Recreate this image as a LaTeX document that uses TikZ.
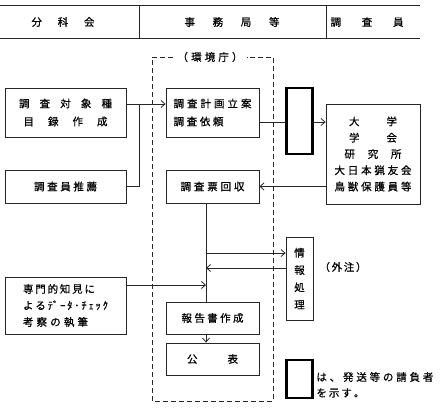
\documentclass[tikz,border=0pt]{standalone}
\usepackage{fontspec}
\setmainfont{Noto Sans CJK JP}[FakeBold=0.6]
\usetikzlibrary{arrows.meta}
\newcommand\spread[2]{\makebox[#1pt][s]{\spaceskip=0pt plus 1fil #2}}
\begin{document}
\begin{tikzpicture}[x=1pt,y=-1pt,>={Straight Barb[length=4pt,width=7pt]},line width=0.8pt,draw=black!85,
  box/.style={rectangle, draw=black!85, line width=0.8pt, inner sep=0pt, align=center, font=\fontsize{10.5}{18}\selectfont},
  agentbox/.style={rectangle, draw=black, line width=2.4pt, inner sep=0pt, minimum width=26pt},
  lbl/.style={inner sep=0pt, font=\fontsize{10.5}{12}\selectfont},]
  \useasboundingbox (0,0) rectangle (441,409);
  % header
  \draw (0,5) -- (420,5);
  \draw (0,38) -- (420,38);
  \draw (139,5) -- (139,38);
  \draw (326,5) -- (326,38);
  \node[lbl] (hdA) at (63,22) {\spread{63}{分 科 会}};
  \node[lbl] (hdB) at (232,22) {\spread{95}{事 務 局 等}};
  \node[lbl] (hdC) at (367,22) {\spread{73}{調 査 員}};
  % boxes
  \node[box, minimum width=121pt, minimum height=49pt] (cat) at (65.5,112.5) {\spread{93}{調 査 対 象 種}\\\spread{84}{目 録 作 成}};
  \node[box, minimum width=121pt, minimum height=33pt] (rec) at (65.5,186.5) {\spread{63}{調 査 員 推 薦}};
  \node[box, minimum width=93pt, minimum height=49pt, align=left] (plan) at (212.5,112.5) {\spread{78}{調 査 計 画 立 案}\\\spread{50}{調 査 依 頼}};
  \node[agentbox, minimum height=66pt] (agent) at (299.5,121) {};
  \node[box, minimum width=94pt, minimum height=100pt, font=\fontsize{10.5}{16.3}\selectfont] (univ) at (373,154) {\spread{48}{大 学}\\\spread{48}{学 会}\\\spread{57}{研 究 所}\\\spread{77}{大 日 本 猟 友 会}\\\spread{77}{鳥 獣 保 護 員 等}};
  \node[box, minimum width=93pt, minimum height=33pt] (coll) at (212.5,186.5) {\spread{64}{調 査 票 回 収}};
  \node[box, minimum width=27pt, minimum height=83pt, font=\fontsize{10.5}{17.3}\selectfont] (info) at (299.5,278.5) {情\\報\\処\\理};
  \node[lbl] (outs) at (343,267) {\spread{47}{（ 外 注 ）}};
  \node[box, minimum width=121pt, minimum height=57pt, align=left, font=\fontsize{10.5}{16.5}\selectfont] (know) at (65.5,305.5) {\spread{72}{専 門 的 知 見 に}\\\spread{85}{よ る ﾃﾞ ｰ ﾀ ･ ﾁ ｪ ｯ ｸ}\\\spread{65}{考 察 の 執 筆}};
  \node[box, minimum width=93pt, minimum height=32pt] (rep) at (212.5,318) {\spread{62}{報 告 書 作 成}};
  \node[box, minimum width=93pt, minimum height=32pt] (pub) at (212.5,359) {\spread{51}{公 表}};
  % agency frame
  \node[lbl] (env) at (210,57) {\spread{65}{（ 環 境 庁 ）}};
  \draw[dash pattern=on 5pt off 3pt, line width=0.7pt] ([xshift=-4pt]env.west) -| (152,401) -| (273,57) -- ([xshift=4pt]env.east);
  % legend
  \node[agentbox, minimum height=38pt] (key) at (299.5,379) {};
  \node[lbl, anchor=west] (keyA) at (316,377) {\spread{117}{は 、 発 送 等 の 請 負 者}};
  \node[lbl, anchor=west] (keyB) at (316,393) {\spread{48}{を 示 す 。}};
  % connectors
  \coordinate (jn) at (139,104);
  \coordinate (t1) at (206,253);
  \coordinate (t2) at (206,268);
  \coordinate (t3) at (206,285);
  \draw[->] ([yshift=8.5pt]cat.east) -- ([yshift=8.5pt]plan.west);
  \draw (rec.east) -| (jn);
  \draw ([yshift=-9.5pt]plan.east) -- ([yshift=-9.5pt]plan.east -| agent.west);
  \draw[->] ([yshift=-1pt]agent.east) -- ([yshift=-1pt]agent.east -| univ.west);
  \draw[->] (univ.west |- coll) -- (coll.east);
  \draw ([xshift=-6.5pt]coll.south) -- ([xshift=-6.5pt]rep.north);
  \draw[->] (t1) -- (t1 -| info.west);
  \draw[->] (t2 -| info.west) -- (t2);
  \draw[->] (t3 -| know.east) -- (t3);
  \draw[->] ([xshift=-6.5pt]rep.south) -- ([xshift=-6.5pt]pub.north);
\end{tikzpicture}
\end{document}
